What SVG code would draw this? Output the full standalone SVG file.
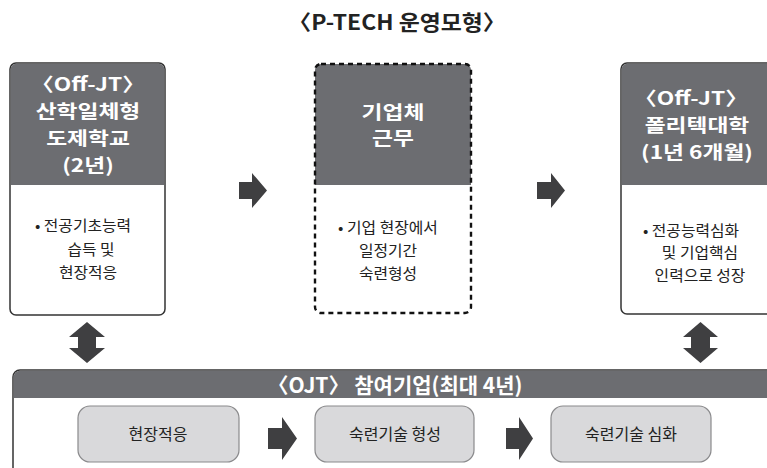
<svg xmlns="http://www.w3.org/2000/svg" width="767" height="468" viewBox="0 0 767 468">
<style>
.t{font-family:"Noto Sans CJK KR","Noto Sans",sans-serif;text-anchor:middle;}
.title{font-size:21px;font-weight:700;fill:#222;}
.hd{font-size:18.5px;font-weight:700;fill:#fff;}
.bd{font-size:15px;fill:#222;}
.ib{font-size:16px;fill:#222;}
.hdr{fill:#6c6d71;}
.frame{fill:#fff;stroke:#333;stroke-width:1.5;}
.inner{fill:#d9d9db;stroke:#8a8a8c;stroke-width:1.2;}
.arr{fill:#3f3f41;}
</style>
<rect width="767" height="468" fill="#fff"/>
<text class="t title" transform="translate(397 30) scale(1.09 1)">〈P-TECH 운영모형〉</text>

<g id="node-school">
<rect class="frame" x="10" y="63" width="155" height="252" rx="6"/>
<path class="hdr" d="M16 63.75 H159 a5.25 5.25 0 0 1 5.25 5.25 V185 H10.75 V69 a5.25 5.25 0 0 1 5.25 -5.25 Z"/>
<text class="t hd" transform="translate(88 91) scale(1.23 1)">〈Off-JT〉</text>
<text class="t hd" transform="translate(88 118) scale(1.23 1)">산학일체형</text>
<text class="t hd" transform="translate(88 145) scale(1.23 1)">도제학교</text>
<text class="t hd" transform="translate(88 172) scale(1.23 1)">(2년)</text>
<text class="t bd" transform="translate(83 231) scale(1.055 1)">• 전공기초능력</text>
<text class="t bd" transform="translate(91 255) scale(1.055 1)">습득 및</text>
<text class="t bd" transform="translate(88 278) scale(1.055 1)">현장적응</text>
</g>

<g id="node-company">
<path class="hdr" d="M321 64 H465 a6 6 0 0 1 6 6 V185 H315 V70 a6 6 0 0 1 6 -6 Z"/>
<rect x="315" y="64" width="156" height="249" rx="6" fill="none" stroke="#111" stroke-width="2.4" stroke-dasharray="5,4"/>
<text class="t hd" transform="translate(393 119) scale(1.23 1)">기업체</text>
<text class="t hd" transform="translate(393 145) scale(1.23 1)">근무</text>
<text class="t bd" transform="translate(388 233) scale(1.055 1)">• 기업 현장에서</text>
<text class="t bd" transform="translate(388 256) scale(1.055 1)">일정기간</text>
<text class="t bd" transform="translate(388 279) scale(1.055 1)">숙련형성</text>
</g>

<g id="node-poly">
<rect class="frame" x="621" y="63" width="160" height="251" rx="6"/>
<path class="hdr" d="M627 63.75 H781 V185 H621.75 V69 a5.25 5.25 0 0 1 5.25 -5.25 Z"/>
<text class="t hd" transform="translate(691 105) scale(1.23 1)">〈Off-JT〉</text>
<text class="t hd" transform="translate(697 132) scale(1.23 1)">폴리텍대학</text>
<text class="t hd" transform="translate(697 159) scale(1.23 1)">(1년 6개월)</text>
<text class="t bd" transform="translate(691 236) scale(1.055 1)">• 전공능력심화</text>
<text class="t bd" transform="translate(700 258) scale(1.055 1)">및 기업핵심</text>
<text class="t bd" transform="translate(700 281) scale(1.055 1)">인력으로 성장</text>
</g>

<g id="node-ojt">
<rect class="frame" x="13" y="370" width="780" height="110" rx="7"/>
<path class="hdr" d="M20 370.75 H793 V398 H13.75 V377 a6.25 6.25 0 0 1 6.25 -6.25 Z"/>
<text class="t hd" style="font-size:21px" x="395" y="393">〈OJT〉 참여기업(최대 4년)</text>
</g>
<g id="node-ojt1">
<rect class="inner" x="78" y="406" width="161" height="56" rx="12"/>
<text class="t ib" x="158" y="440">현장적응</text>
</g>
<g id="node-ojt2">
<rect class="inner" x="315" y="406" width="159" height="56" rx="12"/>
<text class="t ib" x="395" y="440">숙련기술 형성</text>
</g>
<g id="node-ojt3">
<rect class="inner" x="551" y="406" width="160" height="56" rx="12"/>
<text class="t ib" x="631" y="440">숙련기술 심화</text>
</g>

<g id="connectors">
<path class="arr" d="M239 182 H252 V173 L267 190.5 L252 208 V199 H239 Z"/>
<path class="arr" d="M537 182 H551 V173 L565 190.5 L551 208 V199 H537 Z"/>
<path class="arr" d="M87 322 L105 337 H96 V348 H105 L87 363 L69 348 H78 V337 H69 Z"/>
<path class="arr" d="M700.5 322 L718 337 H710 V348 H718 L700.5 363 L683 348 H691 V337 H683 Z"/>
<path class="arr" d="M268 428 H282 V417 L297 438.5 L282 460 V449 H268 Z"/>
<path class="arr" d="M506 428 H519 V417 L533 438.5 L519 460 V449 H506 Z"/>
</g>
</svg>
